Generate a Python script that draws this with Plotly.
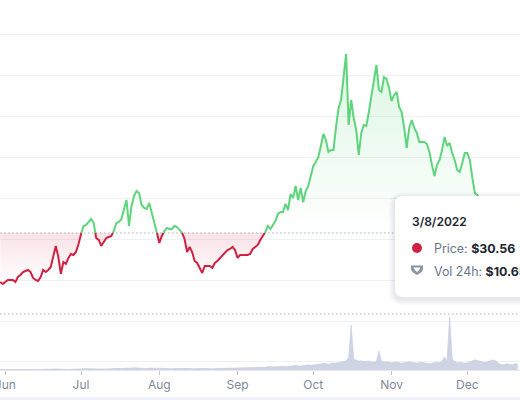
import pandas as pd
import plotly.graph_objects as go

# ---------------- data ----------------
dates = pd.date_range("2021-05-30", periods=206, freq="D")

price = [
    19.56, 19.07, 19.56, 20.05, 20.05, 20.05, 19.56, 20.78, 21.27, 22.00,
    22.25, 22.49, 22.00, 20.54, 20.05, 19.80, 20.78, 22.49, 22.00, 22.49,
    23.23, 25.92, 28.36, 25.67, 21.52, 24.45, 23.96, 25.43, 26.41, 26.16,
    26.89, 28.85, 31.30, 33.25, 33.50, 34.23, 34.96, 33.99, 30.32, 29.83,
    28.36, 29.34, 30.32, 30.56, 30.81, 32.03, 33.99, 34.23, 34.96, 37.16,
    39.61, 33.25, 38.14, 40.59, 41.81, 41.32, 38.39, 37.65, 37.41, 38.88,
    36.43, 34.72, 31.78, 29.10, 30.81, 32.03, 32.76, 32.52, 32.52, 33.25,
    33.01, 32.27, 31.60, 30.07, 26.89, 28.12, 26.89, 24.69, 24.21, 22.98,
    21.76, 23.47, 23.47, 23.47, 22.98, 24.21, 24.69, 25.43, 25.92, 26.65,
    27.38, 27.63, 28.12, 27.38, 25.43, 26.16, 26.16, 26.16, 26.16, 26.41,
    27.63, 28.12, 28.61, 29.83, 30.81, 31.78, 33.25, 32.52, 33.50, 34.47,
    36.19, 36.67, 36.67, 38.63, 37.16, 41.08, 40.10, 43.03, 39.61, 42.54,
    39.12, 41.81, 43.03, 45.23, 47.92, 48.90, 50.12, 52.81, 55.75, 54.28,
    51.34, 51.83, 51.83, 57.46, 62.10, 64.06, 69.44, 75.31, 57.95, 64.06,
    59.66, 56.72, 50.61, 55.99, 57.95, 57.70, 61.12, 65.28, 69.44, 72.62,
    66.50, 66.01, 69.68, 69.19, 66.99, 63.81, 65.28, 66.01, 62.35, 61.12,
    57.21, 52.32, 57.21, 59.17, 57.21, 55.99, 53.79, 53.79, 53.79, 53.30,
    51.34, 48.17, 45.48, 48.17, 49.39, 51.83, 55.01, 52.81, 53.55, 51.10,
    49.39, 46.94, 46.45, 48.66, 51.10, 51.10, 49.39, 44.99, 41.32, 40.83,
    39.61, 38.39, 37.16, 35.94, 34.72, 34.23, 33.25, 32.27, 32.76, 31.05,
    29.83, 30.32, 29.34, 28.61, 29.10, 28.36,
]

volume = (
    # Jun
    [1.0, 0.9, 1.1, 1.0, 0.8, 0.9, 1.2, 1.0, 0.9, 1.1, 1.3, 1.0, 0.9, 1.0, 1.2, 1.1,
     0.9, 1.0, 1.1, 1.3, 1.5, 1.8, 2.0, 1.6, 1.4, 1.3, 1.2, 1.1, 1.3, 1.2, 1.4, 1.6]
    # Jul
    + [2.2, 2.8, 2.5, 2.0, 1.8, 2.4, 2.6, 2.0, 1.9, 2.2, 1.8, 2.0, 2.3, 2.9, 2.6, 2.4,
       3.0, 3.4, 3.8, 4.2, 3.6, 3.9, 4.4, 3.7, 3.2, 3.5, 3.0, 3.8, 3.3, 2.9, 3.4]
    # Aug
    + [3.6, 3.2, 2.8, 3.0, 2.6, 2.5, 2.9, 3.1, 2.7, 2.4, 2.8, 3.3, 3.0, 2.6, 2.4, 2.7,
       2.5, 2.9, 3.1, 2.6, 2.3, 2.5, 2.8, 3.0, 2.7, 2.6, 3.2, 3.4, 2.9, 3.1, 3.5]
    # Sep
    + [3.8, 4.2, 4.0, 4.6, 5.0, 4.4, 4.8, 5.6, 6.2, 5.4, 5.0, 5.8, 6.4, 7.0, 6.2,
       5.8, 6.6, 7.4, 8.0, 7.2, 6.8, 7.6, 8.4, 9.0, 8.2, 7.6, 8.8, 9.6, 10.2, 9.4]
    # Oct
    + [10.0, 11.2, 10.4, 12.0, 13.4, 12.2, 11.6, 13.0, 14.2, 13.6, 15.0, 16.4, 17.2,
       18.0, 24.0, 90.0, 22.0, 19.0, 17.6, 18.4, 16.8, 17.2, 18.0, 16.2, 15.4, 16.8,
       38.0, 17.4, 15.6, 16.4, 15.0]
    # Nov
    + [14.6, 15.2, 16.0, 14.8, 13.6, 14.4, 15.8, 16.6, 15.0, 14.2, 13.8, 14.6, 15.4,
       14.0, 13.2, 12.8, 13.6, 14.8, 15.6, 14.4, 18.0, 26.0, 16.4, 106.0, 22.0, 16.8,
       14.6, 15.2, 14.0, 13.4]
    # Dec
    + [14.2, 16.0, 18.4, 20.2, 19.0, 17.4, 15.6, 14.8, 16.6, 18.2, 20.0, 18.8, 14.0,
       11.0, 10.2, 11.6, 12.4, 11.0, 10.6, 12.8, 11.4]
)

base_price = 31.55
month_ticks = ["2021-06-01", "2021-07-01", "2021-08-01", "2021-09-01",
               "2021-10-01", "2021-11-01", "2021-12-01"]
month_labels = ["Jun", "Jul", "Aug", "Sep", "Oct", "Nov", "Dec"]
tip_date = "3/8/2022"
tip_price = "$30.56"
tip_vol = "$10.65M"

GREEN = "#5ed47c"
RED = "#cf2142"

# --------- split the line at the baseline crossings ---------
ts, vs = [], []
for k in range(len(price)):
    if k > 0:
        v0, v1 = price[k - 1], price[k]
        if (v0 - base_price) * (v1 - base_price) < 0:
            f = (base_price - v0) / (v1 - v0)
            ts.append(dates[k - 1] + (dates[k] - dates[k - 1]) * f)
            vs.append(base_price)
    ts.append(dates[k])
    vs.append(price[k])

up_line = [v if v >= base_price else None for v in vs]
dn_line = [v if v <= base_price else None for v in vs]
up_fill = [max(v, base_price) for v in vs]
dn_fill = [min(v, base_price) for v in vs]
base_arr = [base_price] * len(ts)

fig = go.Figure()

# volume
fig.add_trace(go.Scatter(x=dates, y=volume, yaxis="y2", mode="lines",
                         line=dict(width=0.6, color="#c3c9dc"),
                         fill="tozeroy", fillcolor="#cfd4e4", hoverinfo="skip"))

# green fill
fig.add_trace(go.Scatter(x=ts, y=base_arr, mode="lines", line=dict(width=0),
                         hoverinfo="skip"))
fig.add_trace(go.Scatter(x=ts, y=up_fill, mode="lines", line=dict(width=0),
                         fill="tonexty",
                         fillgradient=dict(type="vertical",
                                           colorscale=[[0, "rgba(94,212,124,0.0)"],
                                                       [1, "rgba(94,212,124,0.22)"]]),
                         hoverinfo="skip"))
# red fill
fig.add_trace(go.Scatter(x=ts, y=base_arr, mode="lines", line=dict(width=0),
                         hoverinfo="skip"))
fig.add_trace(go.Scatter(x=ts, y=dn_fill, mode="lines", line=dict(width=0),
                         fill="tonexty",
                         fillgradient=dict(type="vertical",
                                           colorscale=[[0, "rgba(207,33,66,0.0)"],
                                                       [1, "rgba(207,33,66,0.13)"]]),
                         hoverinfo="skip"))
# lines
fig.add_trace(go.Scatter(x=ts, y=up_line, mode="lines",
                         line=dict(color=GREEN, width=2), connectgaps=False))
fig.add_trace(go.Scatter(x=ts, y=dn_line, mode="lines",
                         line=dict(color=RED, width=2), connectgaps=False))

# ---------------- layout helpers (pixel -> paper) ----------------
PW, PH = 520, 370


def px(x):
    return x / PW


def py(y):
    return (PH - y) / PH


def rrect(x0, y0, x1, y1, r):
    return (f"M {px(x0 + r)},{py(y0)} L {px(x1 - r)},{py(y0)} "
            f"Q {px(x1)},{py(y0)} {px(x1)},{py(y0 + r)} "
            f"L {px(x1)},{py(y1 - r)} Q {px(x1)},{py(y1)} {px(x1 - r)},{py(y1)} "
            f"L {px(x0 + r)},{py(y1)} Q {px(x0)},{py(y1)} {px(x0)},{py(y1 - r)} "
            f"L {px(x0)},{py(y0 + r)} Q {px(x0)},{py(y0)} {px(x0 + r)},{py(y0)} Z")


shapes = []
# baseline dotted line
shapes.append(dict(type="line", xref="paper", x0=0, x1=1, yref="y",
                   y0=base_price, y1=base_price, layer="between",
                   line=dict(color="#aeb3bd", width=1, dash="1.5px,2.5px")))
# volume pane dotted line
shapes.append(dict(type="line", xref="paper", x0=0, x1=1, yref="paper",
                   y0=py(314), y1=py(314), layer="between",
                   line=dict(color="#aeb3bd", width=1, dash="1.5px,2.5px")))
# bottom band
shapes.append(dict(type="rect", xref="paper", yref="paper", x0=0, x1=1,
                   y0=py(400), y1=py(397), fillcolor="#eef1fb", line=dict(width=0)))

# tooltip shadow + box
for k in range(1, 7):
    shapes.append(dict(type="path", xref="paper", yref="paper",
                       path=rrect(395 - k, 196 - k + 2, 545, 297 + k + 2, 8 + k),
                       fillcolor="rgba(40,50,80,0.018)", line=dict(width=0)))
shapes.append(dict(type="path", xref="paper", yref="paper",
                   path=rrect(395, 196, 545, 297, 8),
                   fillcolor="white", line=dict(width=0)))
# red dot
shapes.append(dict(type="circle", xref="paper", yref="paper",
                   x0=px(412), x1=px(422), y0=py(253), y1=py(243),
                   fillcolor=RED, line=dict(width=0)))
# volume icon (shield)
shapes.append(dict(type="path", xref="paper", yref="paper",
                   path=(f"M {px(411)},{py(265.5)} L {px(423)},{py(265.5)} "
                         f"L {px(423)},{py(268.5)} Q {px(423)},{py(272)} {px(417)},{py(275)} "
                         f"Q {px(411)},{py(272)} {px(411)},{py(268.5)} Z"),
                   fillcolor="#8c94a8", line=dict(width=0)))
shapes.append(dict(type="path", xref="paper", yref="paper",
                   path=(f"M {px(413.5)},{py(267.6)} L {px(420.5)},{py(267.6)} "
                         f"Q {px(419.5)},{py(270.5)} {px(417)},{py(272)} "
                         f"Q {px(414.5)},{py(270.5)} {px(413.5)},{py(267.6)} Z"),
                   fillcolor="#ffffff", line=dict(width=0)))

annotations = [
    dict(x=px(410), y=py(221), xref="paper", yref="paper", xanchor="left",
         yanchor="middle", showarrow=False, text=tip_date,
         font=dict(size=12, color="#222531", weight=600)),
    dict(x=px(432), y=py(248.5), xref="paper", yref="paper", xanchor="left",
         yanchor="middle", showarrow=False,
         text=f"<span style='color:#6b768a'>Price: </span><b>{tip_price}</b>",
         font=dict(size=12.4, color="#222531")),
    dict(x=px(432), y=py(271), xref="paper", yref="paper", xanchor="left",
         yanchor="middle", showarrow=False,
         text=f"<span style='color:#6b768a'>Vol 24h: </span><b>{tip_vol}</b>",
         font=dict(size=12.4, color="#222531")),
]

fig.update_layout(
    width=520, height=400,
    margin=dict(l=0, r=0, t=0, b=30, autoexpand=False),
    paper_bgcolor="white", plot_bgcolor="white",
    showlegend=False, hovermode=False,
    font=dict(family="Inter, sans-serif"),
    xaxis=dict(type="date", range=["2021-05-29 21:36", "2021-12-21 21:00"],
               tickvals=month_ticks, ticktext=month_labels,
               ticks="outside", ticklen=4, tickcolor="#c3c8d2", tickwidth=1,
               tickfont=dict(size=12, color="#7f8898"),
               ticklabeloverflow="allow",
               showgrid=False, showline=True, linecolor="#e6e8ef", linewidth=1,
               zeroline=False),
    yaxis=dict(range=[-1.96, 88.5], tick0=0, dtick=10, showgrid=True,
               gridcolor="#eff0f3", gridwidth=1, showticklabels=False,
               zeroline=False),
    yaxis2=dict(range=[0, 740], overlaying="y", visible=False),
    shapes=shapes,
    annotations=annotations,
)

fig.write_html("out.html",
               config={"displayModeBar": False, "staticPlot": True},
               post_script="document.body.style.margin='0px';document.body.style.overflow='hidden';")
